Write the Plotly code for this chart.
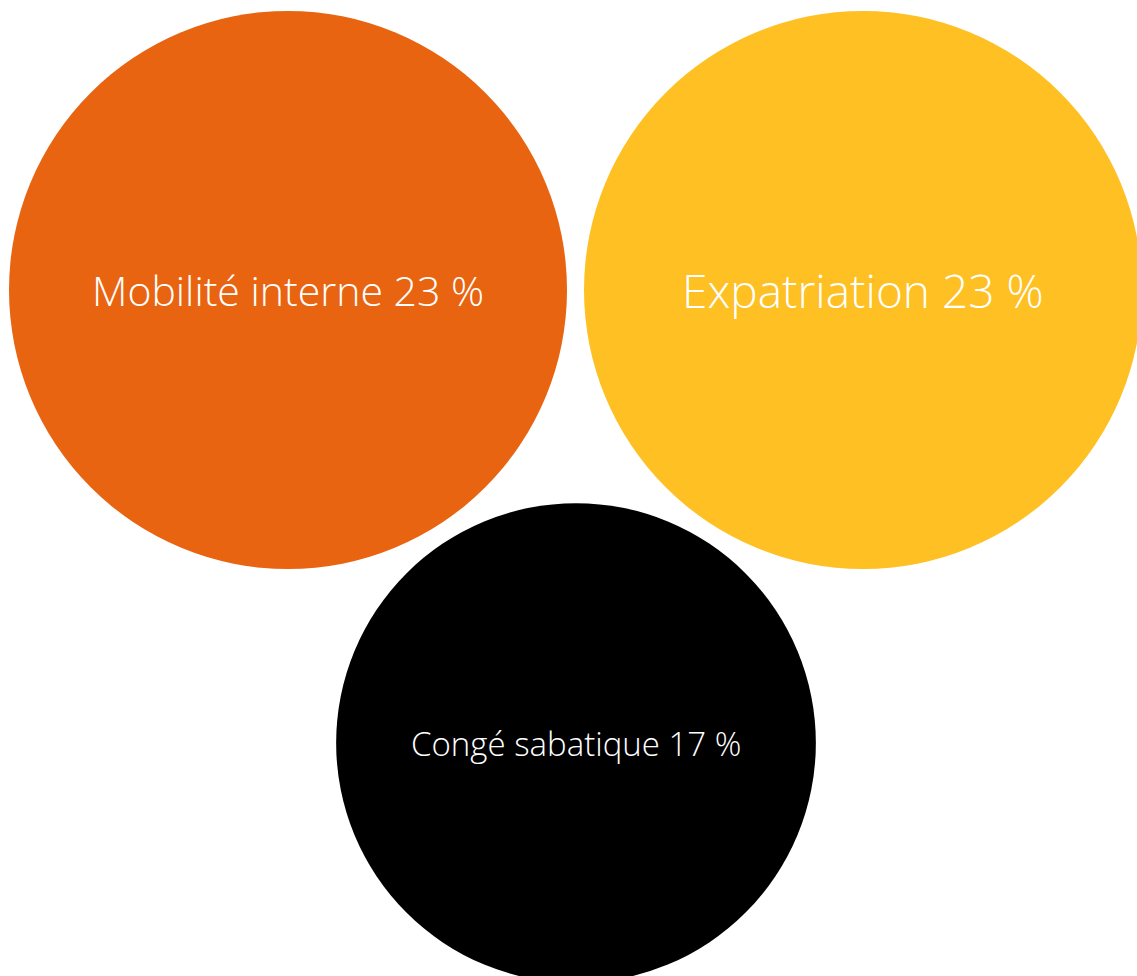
import plotly.graph_objects as go

# Data
categories = ["Mobilité interne", "Expatriation", "Congé sabatique"]
values = [23, 23, 17]  # percent
colors = ["#E86411", "#FEC022", "#000000"]

# Layout (bubble centres, in canvas units)
pos_x = [288, 863, 576]
pos_y = [290, 290, 743]
label_sizes = [41, 46, 33]

W, H = 1137, 976
max_diam = 558
sizeref = 2 * max(values) / (max_diam ** 2)

labels = [f"{c} {v} %" for c, v in zip(categories, values)]

fig = go.Figure()
fig.add_trace(go.Scatter(
    x=pos_x, y=pos_y,
    mode="markers",
    marker=dict(size=values, sizemode="area", sizeref=sizeref,
                color=colors, opacity=1, line=dict(width=0)),
    text=labels,
    hoverinfo="text",
    cliponaxis=True,
))
for x, y, lab, s in zip(pos_x, pos_y, labels, label_sizes):
    fig.add_annotation(
        x=x, y=y, text=lab, showarrow=False,
        xanchor="center", yanchor="middle", yshift=0,
        font=dict(family="Open Sans", size=s, color="white", weight=300),
    )
fig.update_layout(
    width=W, height=H,
    margin=dict(l=0, r=0, t=0, b=0),
    paper_bgcolor="white", plot_bgcolor="white",
    showlegend=False,
    xaxis=dict(range=[0, W], visible=False, fixedrange=True),
    yaxis=dict(range=[H, 0], visible=False, fixedrange=True),
)
fig.write_html("out.html")
